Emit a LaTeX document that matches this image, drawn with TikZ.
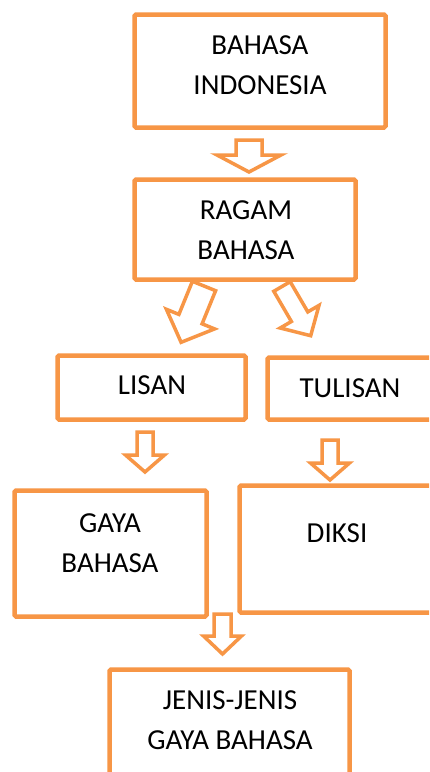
\documentclass[tikz,border=0pt]{standalone}
\usepackage{fontspec}
\setmainfont{Carlito}
\definecolor{org}{HTML}{F79646}
\tikzset{
  box/.style={draw=org, line width=4.5pt, rounded corners=1.5pt, inner sep=0pt},
  blk/.style={draw=org, fill=white, line width=3.5pt, line join=miter, miter limit=10},
  txt/.style={align=center, inner sep=0pt, text=black,
    font=\fontsize{29}{40}\selectfont}
}
\begin{document}
\begin{tikzpicture}[x=1pt,y=-1pt]
\useasboundingbox (0,0) rectangle (429,772);
\clip (0,0) rectangle (429,772);
\fill[white] (0,0) rectangle (429,772);
% block arrows
\draw[blk] (236,140) -- (262,140) -- (262,155) -- (281,155) -- (249,172) -- (217,155) -- (236,155) -- cycle;
\draw[blk] (215.6,290.7) -- (202.1,323.8) -- (214.6,328.9) -- (181.1,342.3) -- (166.4,309.3) -- (178.9,314.4) -- (192.4,281.3) -- cycle;
\draw[blk] (290.2,281.7) -- (307.8,311.9) -- (319.0,305.4) -- (310.7,335.7) -- (280.2,328.0) -- (291.4,321.5) -- (273.8,291.3) -- cycle;
\draw[blk] (137,432) -- (153,432) -- (153,455) -- (164.5,455) -- (145,472) -- (125.5,455) -- (137,455) -- cycle;
\draw[blk] (322,440) -- (338,440) -- (338,463) -- (349.5,463) -- (330,480) -- (310.5,463) -- (322,463) -- cycle;
\draw[blk] (214,614) -- (231,614) -- (231,636) -- (241.5,636) -- (222.5,654) -- (203.5,636) -- (214,636) -- cycle;
% boxes
\node[box, minimum width=251pt, minimum height=113pt] (b1) at (260,71) {};
\node[box, minimum width=221pt, minimum height=100pt] (b2) at (245,229.5) {};
\node[box, minimum width=188pt, minimum height=64pt] (lisan) at (151.5,387.5) {};
\node[box, minimum width=173pt, minimum height=62pt] (tulisan) at (354,388.5) {};
\node[box, minimum width=192pt, minimum height=126pt] (gaya) at (110.5,553.5) {};
\node[box, minimum width=200pt, minimum height=127pt] (diksi) at (339.5,549) {};
\node[box, minimum width=240pt, minimum height=130pt] (jenis) at (229.5,734.5) {};
% texts
\node[txt] (t1) at (260,65) {BAHASA\\INDONESIA};
\node[txt] (t2) at (246,230) {RAGAM\\BAHASA};
\node[txt] (t3) at (152,385) {LISAN};
\node[txt] (t4) at (350,388) {TULISAN};
\node[txt] (t5) at (110,543) {GAYA\\BAHASA};
\node[txt] (t6) at (337,533) {DIKSI};
\node[txt] (t7) at (230,720) {JENIS-JENIS\\GAYA BAHASA};
\end{tikzpicture}
\end{document}
